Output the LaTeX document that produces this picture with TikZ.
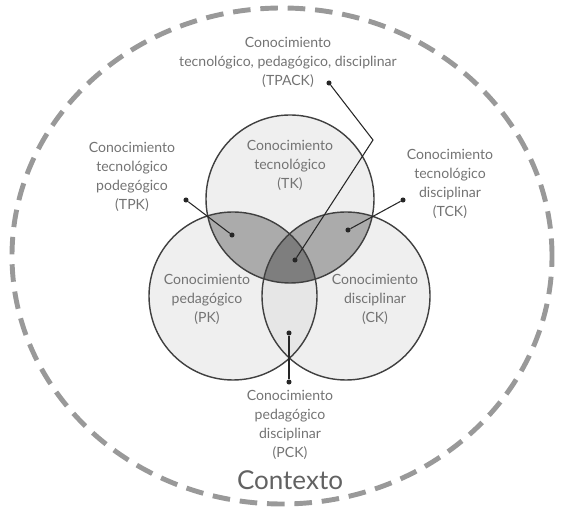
\documentclass[tikz,border=0pt]{standalone}
\usepackage{fontspec}
\setmainfont{Lato}
\usetikzlibrary{calc}
\definecolor{txtgray}{HTML}{737373}
\definecolor{ringgray}{HTML}{404040}
\definecolor{onegray}{HTML}{EFEFEF}
\definecolor{lensgray}{HTML}{E6E6E6}
\definecolor{twogray}{HTML}{ABABAB}
\definecolor{threegray}{HTML}{7E7E7E}

\begin{document}
\begin{tikzpicture}[scale=.25,
  circ/.style={draw=ringgray, line width=1pt},
  lbl/.style={text=txtgray, align=center, font=\fontsize{10}{13.5}\selectfont},
  dot/.style={circle, fill=black!85, inner sep=0pt, minimum size=3.6pt},
  lead/.style={black!85, line width=.75pt}]
\useasboundingbox (0,0) rectangle (56.4,51.2);
% contexto
\draw[black!40, line width=3.5pt, dash pattern=on 12.5pt off 7pt] (28.2,25.6) ellipse (27 and 24.8);
\coordinate (tk) at (29.0,31.3);
\coordinate (pk) at (23.3,21.6);
\coordinate (ck) at (34.6,21.6);
\foreach \c in {tk,pk,ck} {
 \fill[onegray] (\c) circle (8.4);
}
\begin{scope}
 \clip (pk) circle (8.4);
 \fill[lensgray] (ck) circle (8.4);
\end{scope}
\begin{scope}
 \clip (tk) circle (8.4);
 \fill[twogray] (pk) circle (8.4);
 \fill[twogray] (ck) circle (8.4);
 \clip (pk) circle (8.4);
 \fill[threegray] (ck) circle (8.4);
\end{scope}
\foreach \c in {tk,pk,ck} {
 \draw[circ] (\c) circle (8.4);
}
% textos de los circulos
\node[lbl] (tktxt) at (29.0,34.7) {Conocimiento\\tecnológico\\(TK)};
\node[lbl] (pktxt) at (20.7,21.3) {Conocimiento\\pedagógico\\(PK)};
\node[lbl] (cktxt) at (37.5,21.3) {Conocimiento\\disciplinar\\(CK)};
% etiquetas de fuera
\node[lbl] (tpack) at (28.8,45.0) {Conocimiento\\tecnológico, pedagógico, disciplinar\\(TPACK)};
\node[lbl] (tpk) at (13.2,33.5) {Conocimiento\\tecnológico\\podegógico\\(TPK)};
\node[lbl] (tck) at (45.0,32.8) {Conocimiento\\tecnológico\\disciplinar\\(TCK)};
\node[lbl] (pck) at (29.0,8.7) {Conocimiento\\pedagógico\\disciplinar\\(PCK)};
\node[text=txtgray!85!black, font=\fontsize{18.5}{20}\selectfont] (contexto) at (29.0,3.2) {Contexto};
% lineas
\node[dot] (tpack-a) at (32.9,42.9) {};
\coordinate (tpack-b) at (37.3,37.2);
\node[dot] (tpack-c) at (29.5,25.2) {};
\draw[lead] (tpack-a) -- (tpack-b) -- (tpack-c);
\node[dot] (tpk-a) at (18.6,31.2) {};
\node[dot] (tpk-b) at (23.2,27.7) {};
\draw[lead] (tpk-a) -- (tpk-b);
\node[dot] (tck-a) at (40.3,31.2) {};
\node[dot] (tck-b) at (34.8,28.2) {};
\draw[lead] (tck-a) -- (tck-b);
\node[dot] (pck-a) at (28.9,17.9) {};
\node[dot] (pck-b) at (28.9,13.0) {};
\draw[lead] (pck-a) -- (pck-b);
\end{tikzpicture}
\end{document}
